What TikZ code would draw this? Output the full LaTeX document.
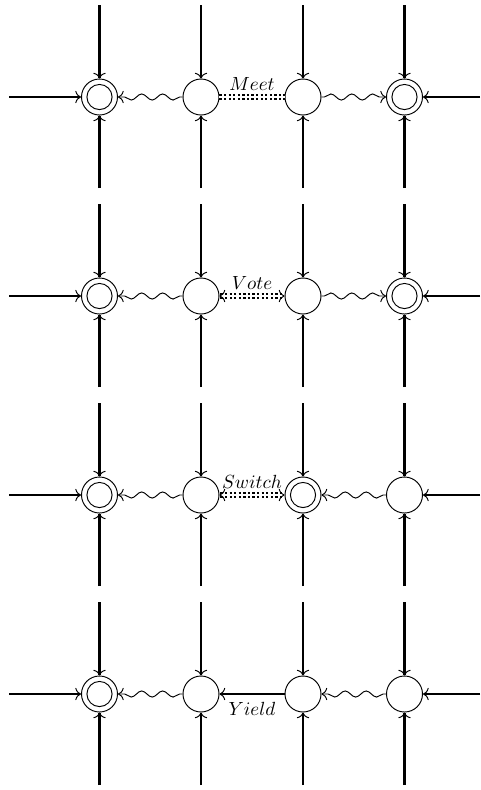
\documentclass[tikz,border=0pt]{standalone}
\usetikzlibrary{arrows.meta,decorations.pathmorphing}
\begin{document}
\begin{tikzpicture}[x=0.525pt,y=-0.525pt,
  >={To[line width=0.5pt,length=3pt,width=6.5pt]},
  station/.style={circle,draw,line width=0.5pt,minimum size=18.9pt,inner sep=0pt},
  target/.style={station,path picture={\draw[line width=0.5pt]
      (path picture bounding box.center) circle (6.6pt);}},
  road/.style={line width=1.3pt,->},
  wave/.style={->,line width=0.5pt,decorate,
      decoration={snake,amplitude=1.6pt,segment length=11pt,pre length=1.5pt,post length=3pt}},
  talk/.style={double,double distance=1.4pt,line width=1.1pt,dash pattern=on 1.2pt off 1.2pt},
  lbl/.style={font=\normalsize,inner sep=1.5pt}
]
\useasboundingbox (0,0) rectangle (480,790);

% four rows of junctions: c1..c4 from left to right
\foreach \r/\y in {1/97,2/296,3/495,4/694}{
  \foreach \c/\x in {1/99.5,2/201,3/303,4/404.5}{
    \coordinate (t\r\c) at (\x,\y-92);
    \coordinate (b\r\c) at (\x,\y+91);
  }
  \coordinate (w\r) at (9,\y);
  \coordinate (e\r) at (480,\y);
}

% row 1: Meet
\node[target]  (n11) at (99.5,97) {};
\node[station] (n12) at (201,97) {};
\node[station] (n13) at (303,97) {};
\node[target]  (n14) at (404.5,97) {};
% row 2: Vote
\node[target]  (n21) at (99.5,296) {};
\node[station] (n22) at (201,296) {};
\node[station] (n23) at (303,296) {};
\node[target]  (n24) at (404.5,296) {};
% row 3: Switch
\node[target]  (n31) at (99.5,495) {};
\node[station] (n32) at (201,495) {};
\node[target]  (n33) at (303,495) {};
\node[station] (n34) at (404.5,495) {};
% row 4: Yield
\node[target]  (n41) at (99.5,694) {};
\node[station] (n42) at (201,694) {};
\node[station] (n43) at (303,694) {};
\node[station] (n44) at (404.5,694) {};

% incoming roads
\foreach \r in {1,2,3,4}{
  \foreach \c in {1,2,3,4}{
    \draw[road] (t\r\c) -- (n\r\c);
    \draw[road] (b\r\c) -- (n\r\c);
  }
  \draw[road] (w\r) -- (n\r1);
  \draw[road] (e\r) -- (n\r4);
}

% row 1
\draw[wave] (n12) -- (n11);
\draw[wave] (n13) -- (n14);
\draw[talk] (n12) -- node[lbl,above,yshift=1.5pt] {$Meet$} (n13);
% row 2
\draw[wave] (n22) -- (n21);
\draw[wave] (n23) -- (n24);
\draw[talk,<->] (n22) -- node[lbl,above,yshift=1.5pt] {$Vote$} (n23);
% row 3
\draw[wave] (n32) -- (n31);
\draw[wave] (n34) -- (n33);
\draw[talk,<->] (n32) -- node[lbl,above,yshift=1.5pt] {$Switch$} (n33);
% row 4
\draw[wave] (n42) -- (n41);
\draw[wave] (n44) -- (n43);
\draw[road] (n43) -- node[lbl,below,yshift=-2pt] {$Yield$} (n42);
\end{tikzpicture}
\end{document}
